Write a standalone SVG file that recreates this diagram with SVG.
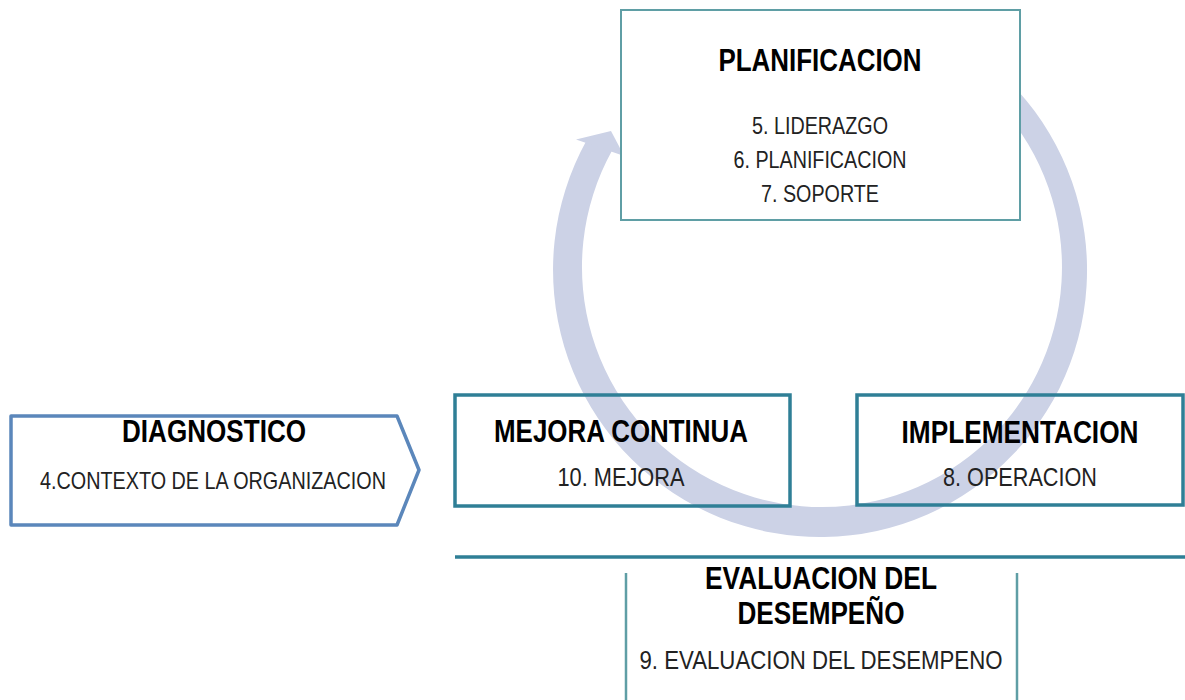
<svg xmlns="http://www.w3.org/2000/svg" width="1185" height="700" viewBox="0 0 1185 700">
<style>
.t{font-family:"Liberation Sans",Arial,sans-serif;font-weight:bold;font-size:31px;fill:#000;text-anchor:middle}
.s{font-family:"Liberation Sans",Arial,sans-serif;font-size:25px;fill:#222;text-anchor:middle}
.box{fill:none;stroke:#2f7f96;stroke-width:3.5}
</style>
<rect width="1185" height="700" fill="#fff"/>
<g id="cycle">
<path d="M 932.8 28 A 267 267 0 1 1 586.5 140.6 L 612.1 150.6 A 240 240 0 1 0 923.4 49.5 Z" fill="#ccd2e6"/>
<polygon points="576,139.5 611,131 624.2,156" fill="#ccd2e6"/>
</g>
<g id="planificacion">
<rect x="621" y="10" width="399" height="210" fill="#fff" stroke="#5f9ea5" stroke-width="2"/>
<text class="t" x="820" y="71" textLength="203" lengthAdjust="spacingAndGlyphs">PLANIFICACION</text>
<text class="s" x="820" y="134" style="font-size:24px" textLength="136" lengthAdjust="spacingAndGlyphs">5. LIDERAZGO</text>
<text class="s" x="820" y="168" style="font-size:24px" textLength="173" lengthAdjust="spacingAndGlyphs">6. PLANIFICACION</text>
<text class="s" x="820" y="202" style="font-size:24px" textLength="118" lengthAdjust="spacingAndGlyphs">7. SOPORTE</text>
</g>
<g id="diagnostico">
<path d="M 11 416 L 397 416 L 419 470 L 397 525 L 11 525 Z" fill="none" stroke="#5b87bb" stroke-width="3.5" stroke-linejoin="round"/>
<text class="t" x="214" y="442" textLength="184" lengthAdjust="spacingAndGlyphs">DIAGNOSTICO</text>
<text class="s" x="213" y="489" style="font-size:24px" textLength="346" lengthAdjust="spacingAndGlyphs">4.CONTEXTO DE LA ORGANIZACION</text>
</g>
<g id="mejora">
<rect class="box" x="455" y="395" width="335" height="111"/>
<text class="t" x="621" y="442" textLength="254" lengthAdjust="spacingAndGlyphs">MEJORA CONTINUA</text>
<text class="s" x="621" y="486" textLength="127" lengthAdjust="spacingAndGlyphs">10. MEJORA</text>
</g>
<g id="implementacion">
<rect class="box" x="857" y="395" width="326" height="110"/>
<text class="t" x="1020" y="443" textLength="237" lengthAdjust="spacingAndGlyphs">IMPLEMENTACION</text>
<text class="s" x="1020" y="486" textLength="154" lengthAdjust="spacingAndGlyphs">8. OPERACION</text>
</g>
<g id="evaluacion">
<line x1="455" y1="557" x2="1185" y2="557" stroke="#2f7f96" stroke-width="3.5"/>
<line x1="626" y1="573" x2="626" y2="700" stroke="#5f9ea5" stroke-width="2.5"/>
<line x1="1017" y1="573" x2="1017" y2="700" stroke="#5f9ea5" stroke-width="2.5"/>
<text class="t" x="821" y="589" textLength="232" lengthAdjust="spacingAndGlyphs">EVALUACION DEL</text>
<text class="t" x="821" y="624" textLength="167" lengthAdjust="spacingAndGlyphs">DESEMPEÑO</text>
<text class="s" x="821" y="669" textLength="363" lengthAdjust="spacingAndGlyphs">9. EVALUACION DEL DESEMPENO</text>
</g>
</svg>
